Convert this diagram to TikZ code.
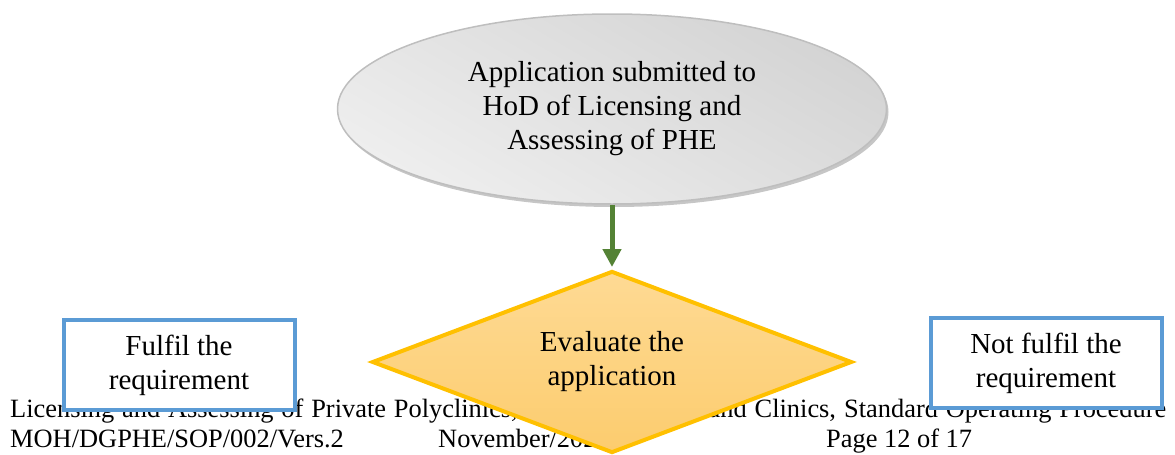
\documentclass[tikz,border=0pt]{standalone}
\usepackage{fontspec}
\setmainfont{Liberation Serif}
\usepackage{tikz}
\usetikzlibrary{arrows.meta, positioning, shapes.geometric, shadows}
\definecolor{ovalline}{RGB}{190,190,190}
\definecolor{ovaldark}{RGB}{212,212,212}
\definecolor{ovallight}{RGB}{238,238,238}
\definecolor{flowgreen}{RGB}{84,130,53}
\definecolor{decisionline}{RGB}{255,192,0}
\definecolor{decisiontop}{RGB}{254,218,148}
\definecolor{decisionbottom}{RGB}{252,204,110}
\definecolor{resultblue}{RGB}{91,155,213}

\begin{document}
\begin{tikzpicture}[
    x=1pt, y=-1pt,
    every node/.style={font=\fontsize{29}{34}\selectfont, align=center},
    startoval/.style={ellipse, draw=ovalline, line width=1.5pt,
      top color=ovaldark, bottom color=ovallight, shading angle=-30,
      minimum width=549pt, minimum height=190pt, inner sep=0pt,
      drop shadow={shadow xshift=2pt, shadow yshift=-3pt,
        fill=gray, opacity=.45}},
    decision/.style={diamond, aspect=2.6, draw=decisionline, line width=4pt,
      top color=decisiontop, bottom color=decisionbottom,
      minimum width=480pt, minimum height=182pt, inner sep=0pt},
    resultbox/.style={rectangle, draw=resultblue, line width=4pt,
      fill=white, minimum width=231pt, minimum height=90pt, inner sep=0pt},
    footline/.style={font=\fontsize{26.4}{29}\selectfont, inner sep=0pt,
      anchor=base west},
    flowarrow/.style={-{Triangle[length=18pt, width=18pt]},
      flowgreen, line width=5pt}
  ]
    \useasboundingbox (0,0) rectangle (1175,455);

    % Page footer (behind the chart)
    \node[footline] (foottitle) at (10,417)
      {\makebox[1156pt][s]{Licensing and Assessing of Private Polyclinics, Medical Centers and Clinics, Standard Operating Procedure}};
    \node[footline] (footcode) at (10,447) {MOH/DGPHE/SOP/002/Vers.2};
    \node[footline] (footdate) at (438,447) {November/2020};
    \node[footline] (footpage) at (826,447) {Page 12 of 17};

    % Start
    \node[startoval] (submit) at (612,109)
      {Application submitted to\\HoD of Licensing and\\Assessing of PHE};

    % Decision
    \node[decision] (evaluate) at (612,362) {Evaluate the\\application};

    % Outcomes
    \node[resultbox] (fulfil) at (179,365) {Fulfil the\\requirement};
    \node[resultbox] (notfulfil) at (1046,363) {Not fulfil the\\requirement};

    \draw[flowarrow, shorten >=2pt] (submit) -- (evaluate);
  \end{tikzpicture}
\end{document}
